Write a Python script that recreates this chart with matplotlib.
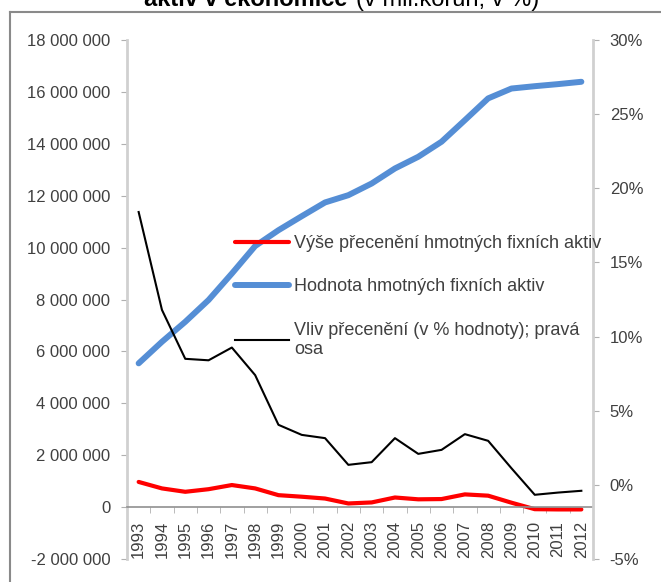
import numpy as np
import matplotlib.pyplot as plt
from matplotlib.ticker import FuncFormatter, FixedLocator

plt.rcParams['font.family'] = ['Liberation Sans', 'DejaVu Sans']

# data
years = [str(y) for y in range(1993, 2013)]
hodnota = [5.54, 6.37, 7.14, 7.98, 9.0, 10.06, 10.67, 11.21, 11.74, 12.02,
           12.47, 13.05, 13.5, 14.08, 14.91, 15.75, 16.13, 16.22, 16.3, 16.39]   # mil. (x 1e6)
precen = [0.97, 0.72, 0.59, 0.69, 0.85, 0.72, 0.46, 0.40, 0.33, 0.14,
          0.18, 0.37, 0.30, 0.31, 0.49, 0.44, 0.17, -0.08, -0.09, -0.09]         # mil. (x 1e6)
vliv = [18.4, 11.8, 8.5, 8.4, 9.26, 7.4, 4.05, 3.37, 3.15, 1.35,
        1.53, 3.15, 2.09, 2.36, 3.42, 2.97, 1.12, -0.67, -0.52, -0.4]            # % of value

hodnota = np.array(hodnota) * 1e6
precen = np.array(precen) * 1e6
x = np.arange(len(years))

fig = plt.figure(figsize=(6.61, 5.82), dpi=100)
ax = fig.add_axes([127/661, 1 - 559/582, (593-127)/661, (559-40)/582])
ax2 = ax.twinx()

l1, = ax.plot(x, precen, color='#ff0000', lw=3, solid_capstyle='round')
l2, = ax.plot(x, hodnota, color='#558ed5', lw=4.3, solid_capstyle='round')
l3, = ax2.plot(x, vliv, color='black', lw=1.5)

ax.set_xlim(-0.5, len(years) - 0.5)
ax.set_ylim(-2e6, 18e6)
ax2.set_ylim(-5, 30)

txt = '#404040'
ax.set_yticks(np.arange(-2e6, 18.1e6, 2e6))
ax.yaxis.set_major_formatter(FuncFormatter(lambda v, p: f'{int(round(v)):,}'.replace(',', ' ')))
ax2.set_yticks(np.arange(-5, 31, 5))
ax2.yaxis.set_major_formatter(FuncFormatter(lambda v, p: f'{int(round(v))}%'))

ax.tick_params(axis='y', colors='#b0b0b0', labelcolor=txt, labelsize=12, length=4, pad=8)
ax2.tick_params(axis='y', colors='#b0b0b0', labelcolor=txt, labelsize=12, length=4, pad=8)

ax.set_xticks(x)
ax.set_xticklabels(years)
ax.tick_params(axis='x', which='major', length=0, pad=10, labelrotation=90,
               labelsize=12, labelcolor=txt)
ax.xaxis.set_minor_locator(FixedLocator(np.arange(0.5, len(years) - 0.5, 1)))
ax.tick_params(axis='x', which='minor', length=4, color='#b0b0b0', direction='out')

for a in (ax, ax2):
    for s in a.spines.values():
        s.set_visible(False)
ax.spines['left'].set_visible(True)
ax.spines['left'].set_color('#d0d0d0')
ax.spines['left'].set_linewidth(2)
ax2.spines['right'].set_visible(True)
ax2.spines['right'].set_color('#d0d0d0')
ax2.spines['right'].set_linewidth(2)
ax.spines['bottom'].set_visible(True)
ax.spines['bottom'].set_position(('data', 0))
ax.spines['bottom'].set_color('#909090')
ax.spines['bottom'].set_linewidth(1.2)

leg = ax2.legend([l1, l2, l3],
                 ['Výše přecenění hmotných fixních aktiv',
                  'Hodnota hmotných fixních aktiv',
                  'Vliv přecenění (v % hodnoty); pravá\nosa'],
                 loc='upper left', bbox_to_anchor=(228/661, 1 - 228/582),
                 bbox_transform=fig.transFigure, frameon=False, fontsize=13,
                 handlelength=3.0, handletextpad=0.25, labelspacing=1.45,
                 borderaxespad=0)
for t in leg.get_texts():
    t.set_color(txt)

# outer chart border
fig.add_artist(plt.Line2D([10/661, 10/661], [0, 1 - 12/582], transform=fig.transFigure,
                          color='#8a8a8a', lw=1.5))
fig.add_artist(plt.Line2D([10/661, 1], [1 - 12/582, 1 - 12/582], transform=fig.transFigure,
                          color='#8a8a8a', lw=1.5))

# title (cut off at top edge in the source)
fig.text(347/661, 1 - 6/582, 'aktiv v ekonomice', ha='right', va='baseline',
         fontsize=17, fontweight='bold', color='black')
fig.text(356/661, 1 - 6/582, '(v mil.korun; v %)', ha='left', va='baseline',
         fontsize=17, color='black')

fig.savefig('out.png', dpi=100)
